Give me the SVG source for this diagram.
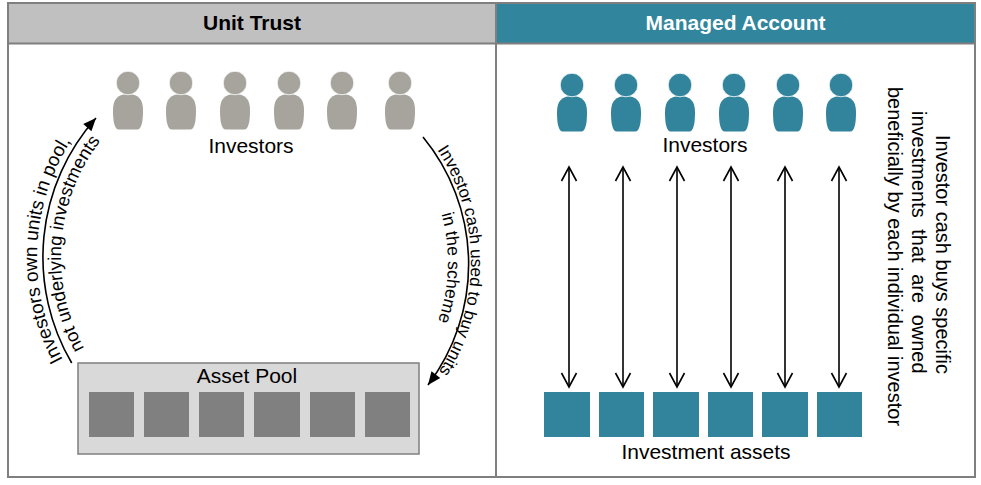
<svg xmlns="http://www.w3.org/2000/svg" width="981" height="485" viewBox="0 0 981 485">
<style>
text{font-family:"Liberation Sans",Arial,sans-serif;fill:#000}
.hdr{font-size:21px;font-weight:bold;text-anchor:middle}
.lbl{font-size:21px;text-anchor:middle}
.vt{font-size:20px}
.ctl{font-size:19px}
.ctli{font-size:18.5px}
.ctr{font-size:17px}
.ctri{font-size:17.5px}
.frame{fill:#fff;stroke:#7f7f7f;stroke-width:2}
.ln{fill:none;stroke:#000;stroke-width:1.6}
.pg{fill:#a6a49c}
.pt{fill:#31849b}
.sq-g{fill:#808080}
.sq-t{fill:#31849b}
</style>
<defs>
<marker id="tri" markerUnits="userSpaceOnUse" viewBox="-14 -7 15 14" refX="0" refY="0" markerWidth="15" markerHeight="14" orient="auto"><path d="M-13,-5.5 L0,0 L-13,5.5 Z" fill="#000"/></marker>
<marker id="vee" markerUnits="userSpaceOnUse" viewBox="-16 -9 18 18" refX="0" refY="0" markerWidth="18" markerHeight="18" orient="auto-start-reverse"><path d="M-14,-7.5 L0,0 L-14,7.5" fill="none" stroke="#000" stroke-width="1.6"/></marker>
<g id="person">
<path d="M0,11 C10,11 15,16 15,27 C15,37 14,42 12,45 Q11,46.5 9,46.5 L-9,46.5 Q-11,46.5 -12,45 C-14,42 -15,37 -15,27 C-15,16 -10,11 0,11 Z"/>
<circle cx="0" cy="0" r="11.8" stroke="#fff" stroke-width="0.8"/>
</g>
<path id="tpLO" d="M63.1,359.6 A215,215 0 0 1 100,105"/>
<path id="tpLI" d="M84.3,348.4 A191,191 0 0 1 129.2,110.7"/>
<path id="tpRO" d="M437.2,149.9 A203,203 0 0 1 411.5,405.5"/>
<path id="tpRI" d="M441.4,213.9 A180,180 0 0 1 423.9,352"/>
</defs>

<g id="panel-unit-trust">
<rect class="frame" x="8" y="3" width="488" height="474"/>
<rect x="8" y="3" width="488" height="40.5" fill="#c0c0c0" stroke="#7f7f7f" stroke-width="2"/>
<text class="hdr" x="252" y="30">Unit Trust</text>
</g>

<g id="panel-managed-account">
<rect class="frame" x="496" y="3" width="479" height="474"/>
<rect x="496" y="3" width="479" height="40.5" fill="#31859c" stroke="#7f7f7f" stroke-width="2"/>
<text class="hdr" x="735.5" y="30" style="fill:#fff">Managed Account</text>
</g>

<g id="ut-investors">
<use href="#person" class="pg" x="128" y="83"/>
<use href="#person" class="pg" x="181" y="83"/>
<use href="#person" class="pg" x="235" y="83"/>
<use href="#person" class="pg" x="289" y="83"/>
<use href="#person" class="pg" x="342" y="83"/>
<use href="#person" class="pg" x="400" y="83"/>
<text class="lbl" x="251" y="153">Investors</text>
</g>

<g id="ut-asset-pool">
<rect x="78" y="363" width="341" height="91" fill="#d9d9d9" stroke="#7f7f7f" stroke-width="1.5"/>
<text class="lbl" x="247" y="383">Asset Pool</text>
<rect class="sq-g" x="89" y="392" width="45" height="45"/>
<rect class="sq-g" x="144" y="392" width="45" height="45"/>
<rect class="sq-g" x="199" y="392" width="45" height="45"/>
<rect class="sq-g" x="254" y="392" width="46" height="45"/>
<rect class="sq-g" x="310" y="392" width="45" height="45"/>
<rect class="sq-g" x="365" y="392" width="45" height="45"/>
</g>

<g id="ma-investors">
<use href="#person" class="pt" x="572" y="85"/>
<use href="#person" class="pt" x="626" y="85"/>
<use href="#person" class="pt" x="680" y="85"/>
<use href="#person" class="pt" x="734" y="85"/>
<use href="#person" class="pt" x="788" y="85"/>
<use href="#person" class="pt" x="841" y="85"/>
<text class="lbl" x="705" y="152">Investors</text>
</g>

<g id="ma-assets">
<rect class="sq-t" x="544" y="392" width="46" height="45"/>
<rect class="sq-t" x="599" y="392" width="45" height="45"/>
<rect class="sq-t" x="653" y="392" width="46" height="45"/>
<rect class="sq-t" x="708" y="392" width="45" height="45"/>
<rect class="sq-t" x="762" y="392" width="46" height="45"/>
<rect class="sq-t" x="817" y="392" width="45" height="45"/>
<text class="lbl" x="706" y="459">Investment assets</text>
</g>

<g id="ma-note">
<text class="vt" transform="translate(936,135) rotate(90)">Investor cash buys specific</text>
<text class="vt" transform="translate(912,111) rotate(90)" word-spacing="6">investments that are owned</text>
<text class="vt" transform="translate(888,87) rotate(90)">beneficially by each individual investor</text>
</g>

<g id="connectors">
<path class="ln" d="M71.7,363 A209,209 0 0 1 96,118" marker-end="url(#tri)"/>
<path class="ln" d="M423,137 A200,200 0 0 1 428,385" marker-end="url(#tri)"/>
<line class="ln" x1="569" y1="167" x2="569" y2="387" marker-start="url(#vee)" marker-end="url(#vee)"/>
<line class="ln" x1="623" y1="167" x2="623" y2="387" marker-start="url(#vee)" marker-end="url(#vee)"/>
<line class="ln" x1="677" y1="167" x2="677" y2="387" marker-start="url(#vee)" marker-end="url(#vee)"/>
<line class="ln" x1="731" y1="167" x2="731" y2="387" marker-start="url(#vee)" marker-end="url(#vee)"/>
<line class="ln" x1="785" y1="167" x2="785" y2="387" marker-start="url(#vee)" marker-end="url(#vee)"/>
<line class="ln" x1="839" y1="167" x2="839" y2="387" marker-start="url(#vee)" marker-end="url(#vee)"/>
<text class="ctl"><textPath href="#tpLO">Investors own units in pool,</textPath></text>
<text class="ctli"><textPath href="#tpLI">not underlying investments</textPath></text>
<text class="ctr"><textPath href="#tpRO">Investor cash used to buy units</textPath></text>
<text class="ctri"><textPath href="#tpRI">in the scheme</textPath></text>
</g>
</svg>
